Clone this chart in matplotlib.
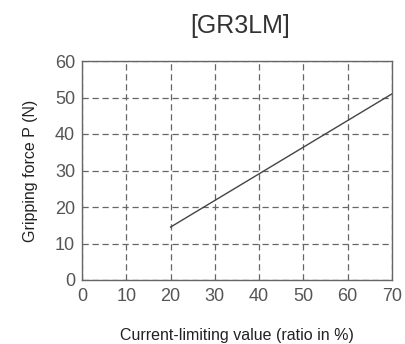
import matplotlib
matplotlib.use("Agg")
import matplotlib.pyplot as plt

x_vals = [20, 70]
force = [14.5, 51]
x_ticks = [0, 10, 20, 30, 40, 50, 60, 70]
y_ticks = [0, 10, 20, 30, 40, 50, 60]

plt.rcParams['font.family'] = ['Liberation Sans', 'DejaVu Sans']

fig = plt.figure(figsize=(4.05, 3.44), dpi=100)
ax = fig.add_axes([82/405, 1-280/344, 310/405, 219/344])
ax.plot(x_vals, force, color='#444444', lw=1.0)
ax.set_xlim(0, 70)
ax.set_ylim(0, 60)
ax.set_xticks(x_ticks)
ax.set_yticks(y_ticks)
ax.grid(True, linestyle=(0, (5, 3)), color='#666666', lw=0.9)
for s in ax.spines.values():
    s.set_color('#666666')
    s.set_linewidth(1.0)
ax.tick_params(length=0, labelsize=13, labelcolor='#555555')
ax.tick_params(axis='x', pad=6)
ax.tick_params(axis='y', pad=5)
ax.set_xlabel('Current-limiting value (ratio in %)', fontsize=11.5, color='#222222', labelpad=16)
ax.set_ylabel('Gripping force P (N)', fontsize=11.5, color='#222222', labelpad=12)
fig.text(240/405, 1-26/344, '[GR3LM]', fontsize=18, color='#333333', ha='center', va='center')
fig.savefig('out.png', dpi=100)
